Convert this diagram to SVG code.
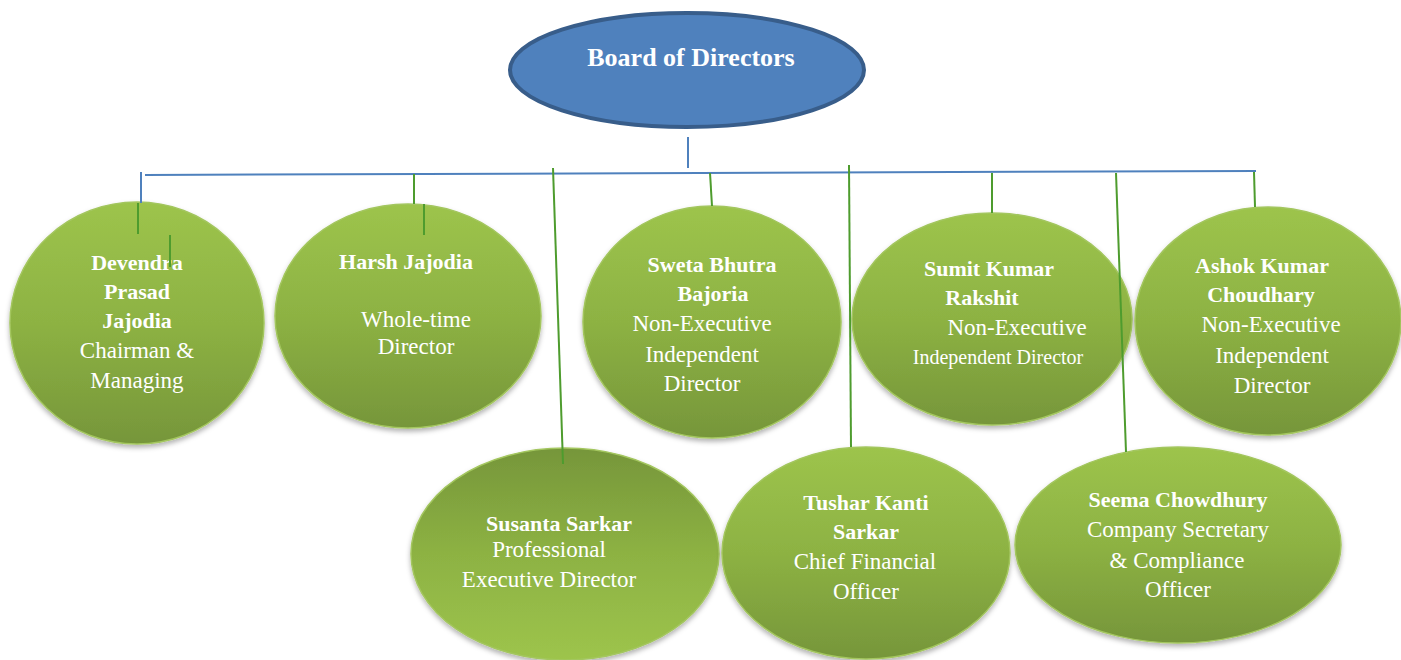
<svg xmlns="http://www.w3.org/2000/svg" width="1401" height="660" viewBox="0 0 1401 660">
<defs>
<linearGradient id="gDown" x1="0" y1="0" x2="0" y2="1">
<stop offset="0" stop-color="#9DC44C"/>
<stop offset="0.5" stop-color="#8DB243"/>
<stop offset="1" stop-color="#76963A"/>
</linearGradient>
<linearGradient id="gUp" x1="0" y1="0" x2="0" y2="1">
<stop offset="0" stop-color="#76963A"/>
<stop offset="0.5" stop-color="#8DB243"/>
<stop offset="1" stop-color="#9DC44C"/>
</linearGradient>
<filter id="sh" x="-10%" y="-10%" width="120%" height="125%">
<feDropShadow dx="0" dy="3" stdDeviation="2.5" flood-color="#000" flood-opacity="0.3"/>
</filter>
</defs>
<style>
.n{stroke:#A3C65E;stroke-width:1.5;filter:url(#sh)}
.d{fill:url(#gDown)}
.u{fill:url(#gUp)}
text{font-family:"Liberation Serif","Times New Roman",serif;fill:#FFFFFF;text-anchor:middle}
.b{font-weight:bold;font-size:22px}
.r{font-size:23px}
.s{font-size:20px}
.bl{stroke:#4F81BD;stroke-width:2;fill:none}
.gr{stroke:#4E9C2E;stroke-width:2;fill:none}
</style>
<g id="board">
<ellipse cx="687" cy="70" rx="177" ry="57" fill="#4F81BD" stroke="#385D8A" stroke-width="4"/>
<text x="691" y="66" style="font-weight:bold;font-size:26px">Board of Directors</text>
</g>
<g id="devendra">
<ellipse class="n d" cx="137" cy="323" rx="127" ry="121"/>
<text class="b" x="137" y="270">Devendra</text>
<text class="b" x="137" y="299">Prasad</text>
<text class="b" x="137" y="328">Jajodia</text>
<text class="r" x="137" y="358">Chairman &amp;</text>
<text class="r" x="137" y="388">Managing</text>
</g>
<g id="harsh">
<ellipse class="n d" cx="408" cy="316" rx="133" ry="112"/>
<text class="b" x="406" y="269">Harsh Jajodia</text>
<text class="r" x="416" y="327">Whole-time</text>
<text class="r" x="416" y="354">Director</text>
</g>
<g id="sweta">
<ellipse class="n d" cx="712" cy="322" rx="129" ry="116"/>
<text class="b" x="712" y="272">Sweta Bhutra</text>
<text class="b" x="713" y="301">Bajoria</text>
<text class="r" x="702" y="331">Non-Executive</text>
<text class="r" x="702" y="362">Independent</text>
<text class="r" x="702" y="391">Director</text>
</g>
<g id="sumit">
<ellipse class="n d" cx="992" cy="319" rx="140" ry="106"/>
<text class="b" x="989" y="276">Sumit Kumar</text>
<text class="b" x="982" y="305">Rakshit</text>
<text class="r" x="1017" y="335">Non-Executive</text>
<text class="s" x="998" y="364">Independent Director</text>
</g>
<g id="ashok">
<ellipse class="n d" cx="1268" cy="321" rx="133" ry="114"/>
<text class="b" x="1262" y="273">Ashok Kumar</text>
<text class="b" x="1261" y="302">Choudhary</text>
<text class="r" x="1271" y="332">Non-Executive</text>
<text class="r" x="1272" y="363">Independent</text>
<text class="r" x="1272" y="393">Director</text>
</g>
<g id="susanta">
<ellipse class="n u" cx="565" cy="554" rx="154" ry="106"/>
<text class="b" x="559" y="531">Susanta Sarkar</text>
<text class="r" x="549" y="557">Professional</text>
<text class="r" x="549" y="587">Executive Director</text>
</g>
<g id="tushar">
<ellipse class="n d" cx="866" cy="553" rx="144" ry="106"/>
<text class="b" x="866" y="510">Tushar Kanti</text>
<text class="b" x="866" y="539">Sarkar</text>
<text class="r" x="865" y="569">Chief Financial</text>
<text class="r" x="866" y="599">Officer</text>
</g>
<g id="seema">
<ellipse class="n d" cx="1178" cy="545" rx="163" ry="98"/>
<text class="b" x="1178" y="507">Seema Chowdhury</text>
<text class="r" x="1178" y="537">Company Secretary</text>
<text class="r" x="1177" y="568">&amp; Compliance</text>
<text class="r" x="1178" y="597">Officer</text>
</g>
<g id="connectors">
<line class="bl" x1="688" y1="137" x2="688" y2="168"/>
<line class="bl" x1="145" y1="175" x2="1256" y2="171"/>
<line class="bl" x1="141" y1="172" x2="141" y2="203"/>
<line class="gr" x1="138" y1="203" x2="138" y2="234"/>
<line class="gr" x1="170" y1="235" x2="170" y2="267"/>
<line class="gr" x1="414" y1="174" x2="414" y2="204"/>
<line class="gr" x1="424" y1="204" x2="424" y2="235"/>
<line class="gr" x1="553" y1="168" x2="563" y2="464"/>
<line class="gr" x1="710" y1="173" x2="712" y2="206"/>
<line class="gr" x1="849" y1="165" x2="851" y2="447"/>
<line class="gr" x1="992" y1="173" x2="992" y2="213"/>
<line class="gr" x1="1116" y1="173" x2="1126" y2="452"/>
<line class="gr" x1="1254" y1="172" x2="1255" y2="207"/>
</g>
</svg>
